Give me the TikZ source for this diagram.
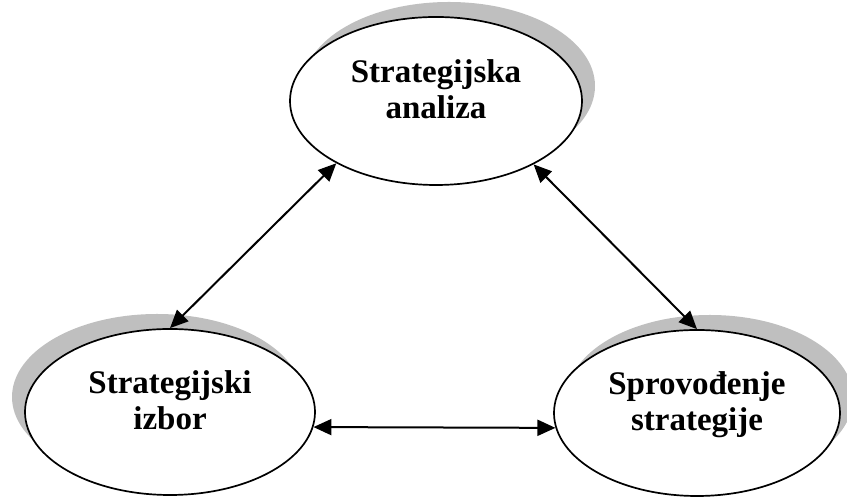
\documentclass[tikz,border=0pt]{standalone}
\usepackage{fontspec}
\setmainfont{Liberation Serif}
\usetikzlibrary{shapes.geometric,shadows,arrows.meta}
\tikzset{
  oval/.style={ellipse,draw,line width=0.85pt,fill=white,minimum width=146pt,minimum height=84pt},
  ovaltext/.style={align=center,font=\fontsize{16.5}{18}\selectfont\bfseries,text depth=0pt,inner sep=0pt},
  link/.style={line width=1pt,{Triangle[length=9pt,width=8pt]}-{Triangle[length=9pt,width=8pt]}}
}
\begin{document}
\begin{tikzpicture}[x=0.5pt,y=0.5pt]
  \useasboundingbox (0,0) rectangle (847,497);
  % the three ovals with their shadows
  \node[oval,drop shadow={shadow xshift=6.5pt,shadow yshift=7.5pt,fill=black!25,opacity=1}] (analysis) at (436,396) {};
  \node[oval,minimum width=145pt,minimum height=83pt,drop shadow={shadow xshift=-6.5pt,shadow yshift=7.5pt,fill=black!25,opacity=1}] (choice) at (170,85) {};
  \node[oval,minimum width=143pt,minimum height=83pt,drop shadow={shadow xshift=6.5pt,shadow yshift=7.5pt,fill=black!25,opacity=1}] (implement) at (697,84) {};
  \node[ovaltext] (analysis text) at ([yshift=6pt]analysis.center) {Strategijska\\analiza};
  \node[ovaltext] (choice text) at ([yshift=6pt]choice.center) {Strategijski\\izbor};
  \node[ovaltext] (implement text) at ([yshift=6pt]implement.center) {Sprovođenje\\strategije};
  % links
  \draw[link] (analysis.212) -- (choice.north);
  \draw[link] (analysis.327) -- (implement.north);
  \draw[link] (choice.354) -- (implement.186);
\end{tikzpicture}
\end{document}
